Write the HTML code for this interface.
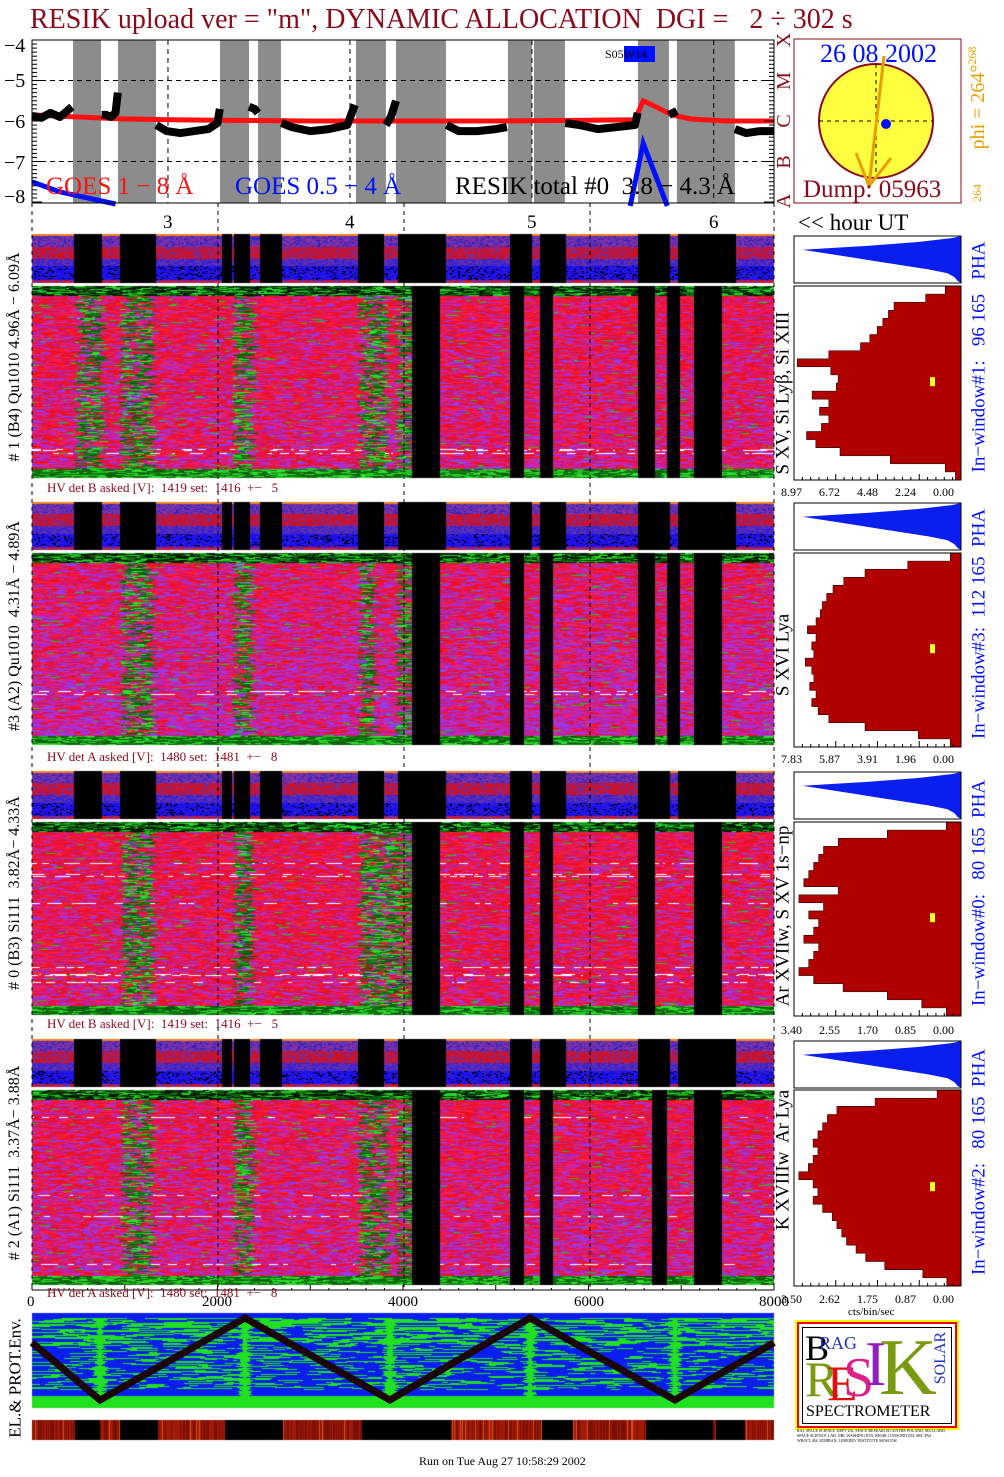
<!DOCTYPE html>
<html><head><meta charset="utf-8">
<style>
html,body{margin:0;padding:0;background:#fff;}
#root{position:relative;width:1004px;height:1477px;overflow:hidden;font-family:"Liberation Serif",serif;}
#cv,#sv{position:absolute;left:0;top:0;}
.t{position:absolute;white-space:nowrap;line-height:1;}
.rot{position:absolute;white-space:nowrap;line-height:1;transform:translate(-50%,-50%) rotate(-90deg);}
.hv{color:#8b0a1a;font-size:13px;}
.hl{font-size:12px;color:#000;}
</style></head><body>
<div id="root">
<canvas id="cv" width="1004" height="1477"></canvas>
<svg id="sv" width="1004" height="1477"></svg>

<div class="t" style="left:30px;top:6px;font-size:28px;color:#8b0a1a;">RESIK upload ver = "m", DYNAMIC ALLOCATION&nbsp; DGI = &nbsp; 2 ÷ 302 s</div>

<div class="t" style="left:4px;top:36px;font-size:20px;">−4</div>
<div class="t" style="left:4px;top:71px;font-size:20px;">−5</div>
<div class="t" style="left:4px;top:112px;font-size:20px;">−6</div>
<div class="t" style="left:4px;top:153px;font-size:20px;">−7</div>
<div class="t" style="left:4px;top:187px;font-size:20px;">−8</div>

<div class="rot" style="left:784px;top:40px;font-size:20px;color:#8b0a1a;">X</div>
<div class="rot" style="left:784px;top:81px;font-size:20px;color:#8b0a1a;">M</div>
<div class="rot" style="left:784px;top:121px;font-size:20px;color:#8b0a1a;">C</div>
<div class="rot" style="left:784px;top:162px;font-size:20px;color:#8b0a1a;">B</div>
<div class="rot" style="left:784px;top:201px;font-size:20px;color:#8b0a1a;">A</div>

<div class="t" style="left:46px;top:174px;font-size:25px;color:#ff1010;">GOES 1 − 8 Å</div>
<div class="t" style="left:235px;top:174px;font-size:25px;color:#0010ff;">GOES 0.5 − 4 Å</div>
<div class="t" style="left:455px;top:174px;font-size:25px;color:#000;">RESIK total #0&nbsp; 3.8 − 4.3 Å</div>
<div class="t" style="left:605px;top:48px;font-size:12px;">S05<span style="background:#0010ff;padding:1px 8px 1px 0;">W14</span></div>

<div class="t" style="left:820px;top:41px;font-size:26px;color:#0010ff;">26 08 2002</div>
<div class="t" style="left:803px;top:177px;font-size:25px;color:#8b0a1a;">Dump: 05963</div>
<div class="rot" style="left:977px;top:98px;font-size:20px;color:#e8a000;">phi = 264°<sup style="font-size:12px">268</sup></div>
<div class="rot" style="left:977px;top:193px;font-size:12px;color:#e8a000;">264</div>

<div class="t" style="left:163px;top:213px;font-size:19px;">3</div>
<div class="t" style="left:345px;top:213px;font-size:19px;">4</div>
<div class="t" style="left:527px;top:213px;font-size:19px;">5</div>
<div class="t" style="left:709px;top:213px;font-size:19px;">6</div>
<div class="t" style="left:798px;top:211px;font-size:23px;">&lt;&lt; hour UT</div>

<div class="rot" style="left:15px;top:357px;font-size:16px;"># 1 (B4) Qu1010 4.96Å − 6.09Å</div>
<div class="rot" style="left:15px;top:626px;font-size:16px;">#3 (A2) Qu1010&nbsp; 4.31Å − 4.89Å</div>
<div class="rot" style="left:15px;top:893px;font-size:16px;"># 0 (B3) Si111&nbsp; 3.82Å− 4.33Å</div>
<div class="rot" style="left:15px;top:1163px;font-size:16px;"># 2 (A1) Si111&nbsp; 3.37Å− 3.88Å</div>

<div class="rot" style="left:979px;top:357px;font-size:19px;color:#0010ff;">In−window#1:&nbsp;&nbsp; 96 165&nbsp;&nbsp; PHA</div>
<div class="rot" style="left:979px;top:624px;font-size:19px;color:#0010ff;">In−window#3:&nbsp; 112 165&nbsp; PHA</div>
<div class="rot" style="left:979px;top:893px;font-size:19px;color:#0010ff;">In−window#0:&nbsp;&nbsp; 80 165&nbsp; PHA</div>
<div class="rot" style="left:979px;top:1162px;font-size:19px;color:#0010ff;">In−window#2:&nbsp;&nbsp; 80 165&nbsp; PHA</div>

<div class="rot" style="left:783px;top:393px;font-size:19px;">S XV, Si Lyβ, Si XIII</div>
<div class="rot" style="left:783px;top:655px;font-size:19px;">S XVI Lya</div>
<div class="rot" style="left:783px;top:916px;font-size:19px;">Ar XVIIw, S XV 1s−np</div>
<div class="rot" style="left:783px;top:1160px;font-size:19px;">K XVIIIw&nbsp; Ar Lya</div>

<div class="t hv" style="left:47px;top:481px;">HV det B asked [V]:&nbsp; 1419 set:&nbsp; 1416&nbsp; +−&nbsp;&nbsp; 5</div>
<div class="t hv" style="left:47px;top:750px;">HV det A asked [V]:&nbsp; 1480 set:&nbsp; 1481&nbsp; +−&nbsp;&nbsp; 8</div>
<div class="t hv" style="left:47px;top:1017px;">HV det B asked [V]:&nbsp; 1419 set:&nbsp; 1416&nbsp; +−&nbsp;&nbsp; 5</div>
<div class="t hv" style="left:47px;top:1286px;">HV det A asked [V]:&nbsp; 1480 set:&nbsp; 1481&nbsp; +−&nbsp;&nbsp; 8</div>

<div class="t" style="left:27px;top:1295px;font-size:15px;">0</div>
<div class="t" style="left:202px;top:1295px;font-size:15px;">2000</div>
<div class="t" style="left:388px;top:1295px;font-size:15px;">4000</div>
<div class="t" style="left:574px;top:1295px;font-size:15px;">6000</div>
<div class="t" style="left:759px;top:1295px;font-size:15px;">8000</div>

<div class="t hl" style="left:781px;top:486px;word-spacing:14px;">8.97 6.72 4.48 2.24 0.00</div>
<div class="t hl" style="left:781px;top:753px;word-spacing:14px;">7.83 5.87 3.91 1.96 0.00</div>
<div class="t hl" style="left:781px;top:1024px;word-spacing:14px;">3.40 2.55 1.70 0.85 0.00</div>
<div class="t hl" style="left:781px;top:1293px;word-spacing:14px;">3.50 2.62 1.75 0.87 0.00</div>
<div class="t" style="left:848px;top:1307px;font-size:11px;">cts/bin/sec</div>

<div class="rot" style="left:15px;top:1378px;font-size:17px;">EL.&amp; PROT.Env.</div>

<div style="position:absolute;left:797px;top:1322px;width:156px;height:102px;border:2px solid #e00;outline:2px solid #ff0;background:#fff;">
 <div style="position:absolute;left:3px;top:3px;width:148px;height:95px;border:1px solid #000;overflow:hidden;">
  <div class="t" style="left:2px;top:2px;font-size:36px;color:#000;">B</div>
  <div class="t" style="left:16px;top:6px;font-size:18px;color:#2030c0;">RAG</div>
  <div class="t" style="left:2px;top:26px;font-size:50px;color:#7a9a10;">R</div>
  <div class="t" style="left:24px;top:30px;font-size:50px;color:#e01010;">E</div>
  <div class="t" style="left:40px;top:22px;font-size:56px;color:#e0208a;">S</div>
  <div class="t" style="left:62px;top:4px;font-size:64px;color:#9020c0;">I</div>
  <div class="t" style="left:76px;top:0px;font-size:80px;color:#7a9a10;">K</div>
  <div class="rot" style="left:138px;top:30px;font-size:16px;color:#2030c0;">SOLAR</div>
  <div class="t" style="left:3px;top:76px;font-size:16px;color:#000;">SPECTROMETER</div>
 </div>
</div>
<div class="t" style="left:797px;top:1428px;font-size:4px;line-height:5px;white-space:normal;width:156px;color:#000;">RAL SPACE SCIENCE DEPT UK, SPACE RESEARCH CENTRE POLAND, MULLARD SPACE SCIENCE LAB, NRL WASHINGTON, RESIK CONSORTIUM, SRC PAS WROCLAW, IZMIRAN, LEBEDEV INSTITUTE MOSCOW</div>

<div class="t" style="left:419px;top:1455px;font-size:12px;">Run on Tue Aug 27 10:58:29 2002</div>
</div>

<script>
// ---------- top-chart data (seconds since start, log10 flux) ----------
const resikSegTimes = [
 [0,100,200,300,380,430],
 [750,800,850,900,925],
 [1340,1450,1600,1750,1900,2000,2025],
 [2340,2400,2436],
 [2690,2800,3000,3200,3400,3480],
 [3816,3870,3924],
 [4470,4600,4800,5000,5120],
 [5750,5900,6100,6300,6500,6530],
 [6867,6910,6953],
 [7580,7700,7850,8000]
];
const resikSegLog = [
 [-5.88,-5.92,-5.80,-5.90,-5.75,-5.65],
 [-5.85,-5.85,-5.90,-5.80,-5.30],
 [-6.10,-6.25,-6.30,-6.25,-6.20,-6.05,-5.70],
 [-5.65,-5.70,-5.80],
 [-6.05,-6.15,-6.25,-6.20,-6.10,-5.60],
 [-6.10,-5.90,-5.50],
 [-6.10,-6.25,-6.25,-6.20,-6.15],
 [-6.05,-6.10,-6.20,-6.15,-6.10,-5.80],
 [-5.85,-5.80,-5.75],
 [-6.20,-6.30,-6.25,-6.25]
];
const goesLongTime = [0,500,1000,1500,2000,3000,4000,5000,6000,6500,6590,6700,6900,7100,7500,8000];
const goesLongLog  = [-5.85,-5.9,-5.95,-5.97,-5.98,-6.0,-6.0,-6.0,-5.98,-5.97,-5.5,-5.62,-5.85,-5.95,-6.0,-6.0];
const goesShortTime = [[0,300,900],[6450,6590,6850]];
const goesShortLog  = [[-7.5,-7.75,-8.05],[-8.1,-6.55,-8.1]];
const gapStart = [442,927,2027,2437,3493,3924,5131,5412,6533,6953];
const gapEnd   = [744,1337,2340,2684,3816,4463,5390,5746,6867,7578];
// ---------- histogram data (cts/bin/sec per PHA row) ----------
const histMax = [8.97,7.83,3.40,3.50];
const hist1 = [0.85,1.9,3.6,3.9,4.2,4.5,4.9,5.4,7.1,8.8,7.0,6.6,6.7,8.0,7.1,7.6,7.1,7.5,8.3,7.8,6.5,3.8,0.85,0.3];
const hist3 = [0.5,2.5,4.5,5.5,6.0,6.3,6.5,6.6,6.8,7.2,6.8,7.0,6.9,7.3,7.0,6.9,7.1,6.8,7.0,6.7,6.2,4.5,2.0,0.5];
const hist0 = [0.3,1.5,2.5,2.8,2.9,3.0,3.1,3.2,2.5,3.3,2.8,3.1,2.9,3.0,3.2,2.9,3.0,3.1,3.3,3.0,2.4,1.5,0.8,0.3];
const hist2 = [0.5,1.8,2.6,2.8,2.9,3.0,3.1,3.0,3.1,3.2,3.4,3.1,3.0,3.1,2.9,2.7,2.6,2.5,2.4,2.2,2.0,1.6,0.8,0.3];
const phaProfile = [0.05,0.25,0.55,0.95,0.8,0.65,0.5,0.35,0.2,0.08,0.04,0.02];
// ---------- orbit (environment) ----------
const envTime = [0,733,2296,3859,5368,6931,8000];
const envLat  = [0.7,0,1,0,1,0,0.7];

const NS="http://www.w3.org/2000/svg";
const sv=document.getElementById('sv');
const X0=32,X1=774;
function xS(t){return X0+(t/8000)*(X1-X0);}
function yLog(v){return 40+(-4-v)*40.5;}
function el(tag,attrs,parent){const e=document.createElementNS(NS,tag);for(const k in attrs)e.setAttribute(k,attrs[k]);(parent||sv).appendChild(e);return e;}

// ---------- canvas textures ----------
const cv=document.getElementById('cv');const c=cv.getContext('2d');
let seed=12345;function rnd(){seed|=0;seed=seed+0x6D2B79F5|0;let t=Math.imul(seed^seed>>>15,1|seed);t=t+Math.imul(t^t>>>7,61|t)^t;return((t^t>>>14)>>>0)/4294967296;}
function inR(x,arr){for(const r of arr)if(x>=r[0]&&x<r[1])return true;return false;}
const stripBlack=[[73,101],[119,156],[221,232],[234,249],[259,281],[357,384],[397,446],[509,532],[540,565],[638,669],[678,735]];
const mains=[
 {y0:286,y1:478,black:[[412,440],[510,524],[540,553],[638,655],[667,680],[694,722]],green:[[74,100],[119,150],[232,250],[357,385],[395,412]],purp:0.3},
 {y0:553,y1:745,black:[[412,440],[510,524],[540,553],[638,655],[667,680],[694,722]],green:[[120,150],[232,250],[357,372],[395,410]],purp:0.45},
 {y0:822,y1:1015,black:[[412,440],[510,524],[540,553],[638,655],[694,722]],green:[[120,150],[232,250],[357,385],[385,412]],purp:0.25},
 {y0:1090,y1:1285,black:[[412,440],[510,524],[540,553],[652,667],[694,722]],green:[[120,150],[232,250],[357,385],[395,412]],purp:0.35}
];
const strips=[[234,283],[502,550],[771,819],[1039,1087]];
c.fillStyle='#fff';c.fillRect(0,0,1004,1477);
for(const s of strips){
 for(let y=s[0];y<s[1];y++){
  const f=(y-s[0])/(s[1]-s[0]);
  for(let x=X0;x<X1;x+=2){
   let col;
   if(inR(x,stripBlack)){col='#000';}
   else if(y<s[0]+2){col='#f08020';}
   else if(y>=s[1]-3){col=rnd()<0.5?'#e01010':'#7030a0';}
   else{
    const r=rnd();
    if(f<0.25) col=r<0.5?'#6030b0':(r<0.8?'#9030a0':'#3020c0');
    else if(f<0.5) col=r<0.6?'#d01020':(r<0.85?'#a02070':'#6030b0');
    else if(f<0.65) col=r<0.5?'#6030b0':'#3a20d0';
    else col=r<0.7?'#1a10f0':(r<0.85?'#000':'#4020c0');
   }
   c.fillStyle=col;c.fillRect(x,y,2,1);
  }
 }
}
const redP=['#f01028','#e81020','#ff2030','#d81848','#f01060'];
const purP=['#a030e0','#c028c0','#9040f0','#b020b0','#d020a0'];
const grnP=['#108010','#20c020','#0a5a0a','#30e030','#106a10'];
for(const m of mains){
 for(let y=m.y0;y<m.y1;y++){
  const edgeTop=y<m.y0+10, edgeBot=y>m.y1-10;
  const rowWhite=rnd()<0.02;
  let x=X0;
  while(x<X1){
   const w=2+Math.floor(rnd()*9);
   let col;
   if(edgeTop) col=rnd()<0.6?grnP[Math.floor(rnd()*5)]:'#051a05';
   else if(edgeBot) col=grnP[Math.floor(rnd()*5)];
   else if(inR(x,m.green)){const r=rnd();col=r<0.55?grnP[Math.floor(rnd()*5)]:(r<0.8?redP[Math.floor(rnd()*5)]:purP[Math.floor(rnd()*5)]);}
   else{
    const r=rnd();
    const pp=m.purp*(0.6+(y-m.y0)/(m.y1-m.y0));
    if(rowWhite&&r<0.4) col='#ffffff';
    else if(r<pp) col=purP[Math.floor(rnd()*5)];
    else if(r<0.985) col=redP[Math.floor(rnd()*5)];
    else col=grnP[1];
   }
   c.fillStyle=col;c.fillRect(x,y,Math.min(w,X1-x),1);
   x+=w;
  }
 }
 c.fillStyle='#000';
 for(const r of m.black) c.fillRect(r[0],m.y0,r[1]-r[0],m.y1-m.y0);
}
c.fillStyle='#0a1ef0';c.fillRect(X0,1313,X1-X0,95);
c.fillStyle='#20e020';
for(let y=1318;y<1345;y++){let x=X0;while(x<X1){const w=4+Math.floor(rnd()*30);if(rnd()<0.55)c.fillRect(x,Math.min(y,1408),Math.min(w,X1-x),1);x+=w;}}
for(let y=1345;y<1390;y+=1){let x=X0;while(x<X1){const w=4+Math.floor(rnd()*25);if(rnd()<0.28)c.fillRect(x,y,Math.min(w,X1-x),1);x+=w;}}
c.fillRect(X0,1396,X1-X0,12);
for(const px of [100,245,390,530,675]){for(let y=1318;y<1405;y++){const w=3+Math.floor(rnd()*14);c.fillRect(px-w/2,y,w,1);}}
for(let x=X0;x<X1;x++){
 const r=rnd();const col=r<0.08?'#e05010':(r<0.5?'#7a1005':'#a01a08');
 c.fillStyle=col;c.fillRect(x,1420,1,20);
}
c.fillStyle='#000';
for(const r of [[75,100],[120,158],[225,283],[362,451],[542,573],[646,713],[716,745]]){c.fillRect(r[0],1420,r[1]-r[0],20);}

// ---------- SVG top chart ----------
const topG=el('g',{});


for(let i=0;i<gapStart.length;i++){
 const r=el('rect',{x:xS(gapStart[i]),y:40,width:xS(gapEnd[i])-xS(gapStart[i]),height:163,fill:'#8c8c8c'},topG);
 
 
}
for(const v of [-5,-7]) el('line',{x1:X0,x2:X1,y1:yLog(v),y2:yLog(v),stroke:'#000','stroke-dasharray':'5,4'},topG);
for(const t of [1466,3428,5390,7350]) el('line',{x1:xS(t),x2:xS(t),y1:40,y2:203,stroke:'#000','stroke-dasharray':'5,4'},topG);
function poly(ts,vs){return ts.map((t,i)=>xS(t).toFixed(1)+','+yLog(vs[i]).toFixed(1)).join(' ');}
const gl=el('polyline',{points:poly(goesLongTime,goesLongLog),fill:'none',stroke:'#ff1010','stroke-width':5},topG);


for(let i=0;i<goesShortTime.length;i++){
 const p=el('polyline',{points:poly(goesShortTime[i],goesShortLog[i]),fill:'none',stroke:'#0010ff','stroke-width':5},topG);
 
 
}
for(let i=0;i<resikSegTimes.length;i++){
 const p=el('polyline',{points:poly(resikSegTimes[i],resikSegLog[i]),fill:'none',stroke:'#000','stroke-width':8,'stroke-linejoin':'round'},topG);
 
 
}
el('rect',{x:X0,y:40,width:X1-X0,height:163,fill:'none',stroke:'#000','stroke-width':1},topG);
for(let v=-8;v<=-4.001;v+=0.1){const y=yLog(v);const w=Math.abs(v-Math.round(v))<0.01?10:5;el('line',{x1:X0,x2:X0+w,y1:y,y2:y,stroke:'#000'},topG);el('line',{x1:X1-w,x2:X1,y1:y,y2:y,stroke:'#000'},topG);}
for(const x of [X0,218,404,590,X1]) el('line',{x1:x,x2:x,y1:203,y2:1290,stroke:'#000','stroke-dasharray':'4,4'});

// ---------- sun panel ----------
const sun=el('g',{});


el('rect',{x:794,y:39,width:167,height:164,fill:'none',stroke:'#8b0a1a'},sun);
el('circle',{cx:876,cy:121,r:57,fill:'#ffff40',stroke:'#8b0a1a','stroke-width':2},sun);
el('line',{x1:819,x2:933,y1:121,y2:121,stroke:'#000','stroke-dasharray':'4,4'},sun);
el('line',{x1:876,x2:876,y1:64,y2:178,stroke:'#000','stroke-dasharray':'4,4'},sun);
el('circle',{cx:886,cy:124,r:5,fill:'#0010ff'},sun);
el('polyline',{points:'884,56 869,186',fill:'none',stroke:'#e8a000','stroke-width':3},sun);
el('polyline',{points:'856,153 869,186 891,158',fill:'none',stroke:'#e8a000','stroke-width':3},sun);

// ---------- histograms ----------
const hists=[hist1,hist3,hist0,hist2];
const hBoxes=[[286,480],[553,747],[822,1016],[1090,1286]];
const pBoxes=[[236,283],[503,550],[772,819],[1041,1088]];
const HX0=794,HX1=961;
for(let k=0;k<4;k++){
 const g=el('g',{});
 
 
 const y0=hBoxes[k][0],y1=hBoxes[k][1];const d=hists[k];const hgt=(y1-y0)/d.length;
 const pts=[HX1+','+y0];
 d.forEach((v,i)=>{const x=HX1-v/histMax[k]*(HX1-HX0);pts.push(x.toFixed(1)+','+(y0+i*hgt).toFixed(1));pts.push(x.toFixed(1)+','+(y0+(i+1)*hgt).toFixed(1));});
 pts.push(HX1+','+y1);
 const p=el('polygon',{points:pts.join(' '),fill:'#b00000',stroke:'#000','stroke-width':0.5},g);
 
 
 el('rect',{x:930,y:y0+(y1-y0)*0.47,width:5,height:9,fill:'#ffff20'},g);
 el('rect',{x:HX0,y:y0,width:HX1-HX0,height:y1-y0,fill:'none',stroke:'#000'},g);
 for(let i=0;i<=20;i++){const x=HX0+i*(HX1-HX0)/20;el('line',{x1:x,x2:x,y1:y1,y2:y1-(i%5?3:6),stroke:'#000'},g);}
 const p0=pBoxes[k][0],p1=pBoxes[k][1];const ph=(p1-p0)/phaProfile.length;
 const pp=[HX1+','+p0];
 phaProfile.forEach((v,i)=>{pp.push((HX1-v*(HX1-HX0)).toFixed(1)+','+(p0+(i+0.5)*ph).toFixed(1));});
 pp.push(HX1+','+p1);
 const b=el('polygon',{points:pp.join(' '),fill:'#0a1ef0'},g);
 
 
 el('rect',{x:HX0,y:p0,width:HX1-HX0,height:p1-p0,fill:'none',stroke:'#000'},g);
}
const orb=el('polyline',{points:envTime.map((t,i)=>xS(t).toFixed(1)+','+(1400-envLat[i]*82).toFixed(1)).join(' '),fill:'none',stroke:'#1a0500','stroke-width':7});


el('line',{x1:X0,x2:X1,y1:1290,y2:1290,stroke:'#000'});
for(let i=0;i<=40;i++){const x=X0+i*(X1-X0)/40;el('line',{x1:x,x2:x,y1:1290,y2:1290-(i%5?2:5),stroke:'#000'});}
</script>
</body></html>
